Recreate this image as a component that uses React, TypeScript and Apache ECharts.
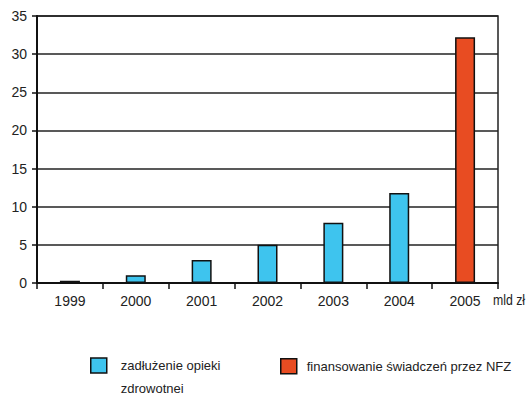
import React, { useEffect, useRef } from "react";
import * as echarts from "echarts";

const years = ["1999", "2000", "2001", "2002", "2003", "2004", "2005"];
const debtValues: (number | string)[] = [0.3, 1, 3, 5, 7.9, 11.8, "-"];
const nfzValues: (number | string)[] = ["-", "-", "-", "-", "-", "-", 32.2];
const debtLines = ["zadłużenie opieki", "zdrowotnei"];
const debtName = debtLines.join(" ");
const nfzName = "finansowanie świadczeń przez NFZ";
const unitLabel = "mld zł";

const FONT = "'Liberation Sans', Arial, sans-serif";

export default function App() {
  const ref = useRef<HTMLDivElement>(null);
  useEffect(() => {
    if (!ref.current) return;
    const chart = echarts.init(ref.current, null, { renderer: "svg" });
    chart.setOption({
      animation: false,
      textStyle: { fontFamily: FONT },
      grid: {
        left: 37,
        right: 31,
        top: 16,
        bottom: 114,
        show: true,
        borderColor: "#222",
        borderWidth: 1.5,
      },
      legend: [
        {
          data: [debtName],
          left: 90,
          top: 336,
          padding: 0,
          icon: "rect",
          itemWidth: 16,
          itemHeight: 15,
          itemStyle: { borderColor: "#111", borderWidth: 1.5 },
          formatter: () => `{e| }\n{a|${debtLines[0]}}\n{a|${debtLines[1]}}`,
          textStyle: {
            fontFamily: FONT,
            fontSize: 13,
            color: "#222",
            rich: {
              e: { fontSize: 13, lineHeight: 23, fontFamily: FONT },
              a: { fontSize: 13, lineHeight: 23, fontFamily: FONT, color: "#222", padding: [0, 0, 0, 9] },
            },
          },
        },
        {
          data: [nfzName],
          left: 280,
          top: 358,
          padding: 0,
          icon: "rect",
          itemWidth: 16,
          itemHeight: 15,
          itemStyle: { borderColor: "#111", borderWidth: 1.5 },
          formatter: (n: string) => `{a|${n}}`,
          textStyle: {
            fontFamily: FONT,
            fontSize: 13,
            color: "#222",
            rich: {
              a: { fontSize: 13, lineHeight: 15, fontFamily: FONT, color: "#222", padding: [0, 0, 0, 5] },
            },
          },
        },
      ],
      xAxis: {
        type: "category",
        data: years,
        axisLine: { lineStyle: { color: "#111", width: 2 } },
        axisTick: { show: true, length: 6, lineStyle: { color: "#111", width: 1.5 } },
        axisLabel: { fontFamily: FONT, fontSize: 14, color: "#222", margin: 11 },
      },
      yAxis: {
        type: "value",
        min: 0,
        max: 35,
        interval: 5,
        axisLine: { show: true, lineStyle: { color: "#111", width: 2 } },
        axisTick: { show: true, length: 5, lineStyle: { color: "#111", width: 1.5 } },
        axisLabel: { fontFamily: FONT, fontSize: 14, color: "#222", margin: 10 },
        splitLine: { show: true, lineStyle: { color: "#222", width: 1.5 } },
      },
      graphic: [
        {
          type: "text",
          x: 493,
          y: 293,
          scaleX: 0.82,
          style: { text: unitLabel, font: `15px ${FONT}`, fill: "#222" },
        },
      ],
      series: [
        {
          name: debtName,
          type: "bar",
          stack: "a",
          barWidth: 20,
          data: debtValues,
          itemStyle: { color: "#3ec4ee", borderColor: "#111", borderWidth: 1.5 },
        },
        {
          name: nfzName,
          type: "bar",
          stack: "a",
          barWidth: 20,
          data: nfzValues,
          itemStyle: { color: "#e84c22", borderColor: "#111", borderWidth: 1.5 },
        },
      ],
    });
    return () => chart.dispose();
  }, []);
  return <div ref={ref} style={{ width: 529, height: 397, position: "absolute", left: 0, top: 0 }} />;
}
